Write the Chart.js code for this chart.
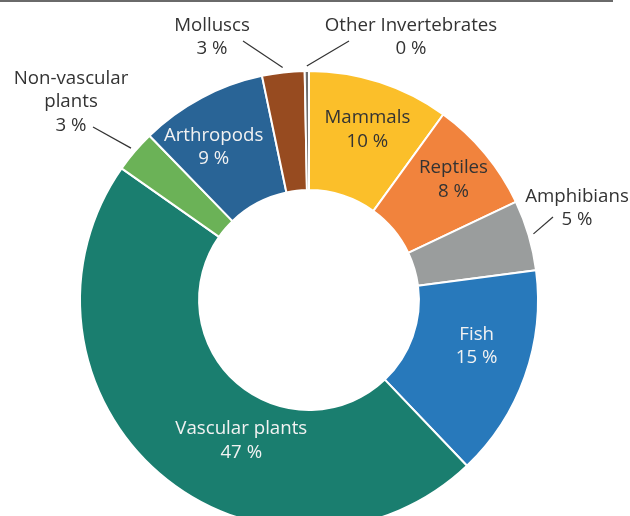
<!DOCTYPE html>
<html>
<head>
<meta charset="utf-8">
<script src="https://cdn.jsdelivr.net/npm/chart.js@4"></script>
<style>
  html, body { margin: 0; padding: 0; background: #fff; overflow: hidden; }
  #wrap { width: 630px; height: 560px; }
</style>
</head>
<body>
<div id="wrap"><canvas id="species-chart" width="630" height="560"></canvas></div>
<script>
// share of threatened species by group, in %
const groups = ['Mammals', 'Reptiles', 'Amphibians', 'Fish', 'Vascular plants',
    'Non-vascular plants', 'Arthropods', 'Molluscs', 'Other Invertebrates'];
const shares = [10, 8, 5, 15, 47, 3, 9, 3, 0.3];
const shareLabels = ['10 %', '8 %', '5 %', '15 %', '47 %', '3 %', '9 %', '3 %', '0 %'];
const colours = ['#FBBF2A', '#F1833D', '#9A9D9D', '#2879BB', '#1A7E6F',
    '#6BB257', '#296496', '#974B20', '#6E6E6E'];

// how each label is set: inside the ring (r, angle shift in degrees) or outside with a leader
const labelStyle = [
    {inside: true, r: 180, shift: 1, color: '#333'},
    {inside: true, r: 188, shift: 0, color: '#333'},
    {inside: false, lines: ['Amphibians'], text: [268, -92], leader: [244, -83]},
    {inside: true, r: 174, shift: -4, color: '#f2f2f2'},
    {inside: true, r: 156, shift: -15, color: '#f2f2f2'},
    {inside: false, lines: ['Non-vascular', 'plants'], text: [-238, -198], leader: [-216, -173]},
    {inside: true, r: 180, shift: -4, color: '#f2f2f2'},
    {inside: false, lines: ['Molluscs'], text: [-97, -263], leader: [-66, -259]},
    {inside: false, lines: ['Other Invertebrates'], text: [102, -263], leader: [40, -259]}
];

const FONT = '18.7px "Open Sans", "Noto Sans", sans-serif';
const LINE = 23.5;

const ringLabels = {
    id: 'ringLabels',
    beforeDraw(chart) {
        const ctx = chart.ctx;
        ctx.save();
        ctx.fillStyle = '#6a6a6a';
        ctx.fillRect(0, 0, 613, 2);
        ctx.restore();
    },
    afterDatasetsDraw(chart) {
        const ctx = chart.ctx;
        const arcs = chart.getDatasetMeta(0).data;
        ctx.save();
        ctx.font = FONT;
        ctx.textAlign = 'center';
        ctx.textBaseline = 'middle';
        arcs.forEach((arc, i) => {
            const st = labelStyle[i];
            const mid = (arc.startAngle + arc.endAngle) / 2;
            const cx = arc.x, cy = arc.y;
            if (st.inside) {
                const a = mid + st.shift * Math.PI / 180;
                const x = cx + Math.cos(a) * st.r;
                const y = cy + Math.sin(a) * st.r;
                ctx.fillStyle = st.color;
                ctx.fillText(groups[i], x, y - LINE / 2);
                ctx.fillText(shareLabels[i], x, y + LINE / 2);
            } else {
                const r0 = arc.outerRadius + 5;
                ctx.strokeStyle = '#333';
                ctx.lineWidth = 1.2;
                ctx.beginPath();
                ctx.moveTo(cx + Math.cos(mid) * r0, cy + Math.sin(mid) * r0);
                ctx.lineTo(cx + st.leader[0], cy + st.leader[1]);
                ctx.stroke();
                const lines = st.lines.concat([shareLabels[i]]);
                const top = cy + st.text[1] - (lines.length - 1) * LINE / 2;
                ctx.fillStyle = '#333';
                lines.forEach((t, k) => ctx.fillText(t, cx + st.text[0], top + k * LINE));
            }
        });
        ctx.restore();
    }
};

new Chart(document.getElementById('species-chart'), {
    type: 'doughnut',
    data: {
        labels: groups,
        datasets: [{
            data: shares,
            backgroundColor: colours,
            borderColor: '#fff',
            borderWidth: 2
        }]
    },
    options: {
        responsive: false,
        animation: false,
        cutout: '48%',
        layout: {
            padding: {top: 70, bottom: 30, left: 79, right: 91}
        },
        plugins: {
            legend: {display: false},
            tooltip: {enabled: false}
        }
    },
    plugins: [ringLabels]
});
</script>
</body>
</html>
